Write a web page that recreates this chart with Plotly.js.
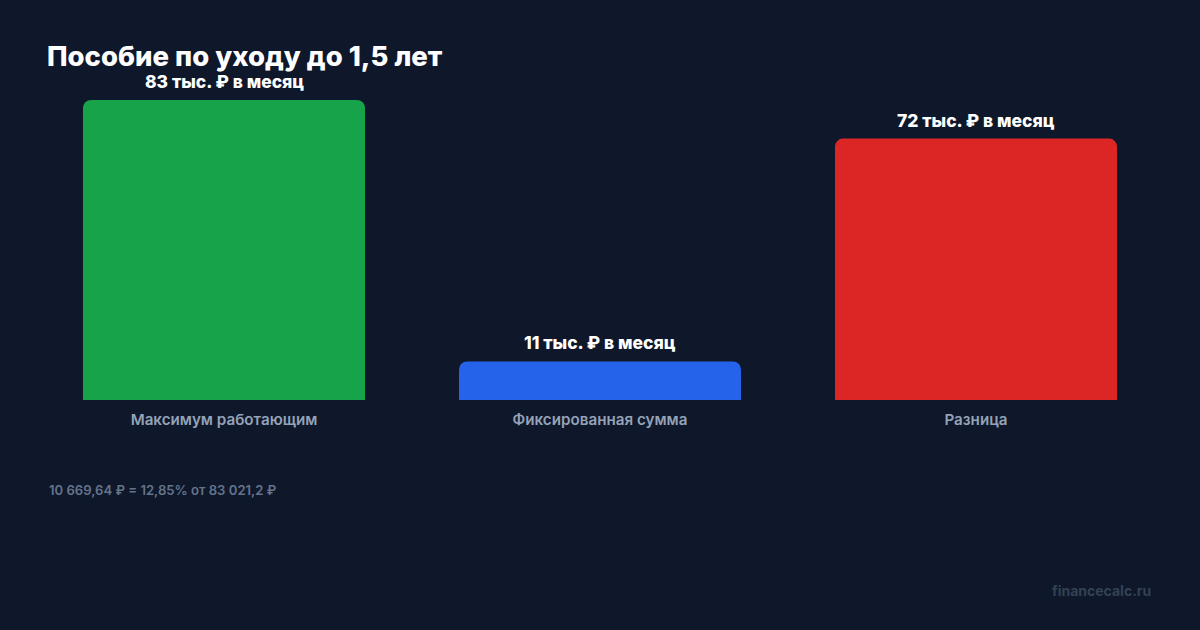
<!DOCTYPE html>
<html>
<head>
<meta charset="utf-8">
<script src="https://cdn.plot.ly/plotly-3.0.1.min.js"></script>
<style>
html,body{margin:0;padding:0;background:#0f172a;}
#chart{width:1200px;height:630px;}
</style>
</head>
<body>
<div id="chart"></div>
<script>
const categories = ["Максимум работающим", "Фиксированная сумма", "Разница"];
const values = [83.0212, 10.66964, 72.35156];
const valueLabels = ["83 тыс. ₽ в месяц", "11 тыс. ₽ в месяц", "72 тыс. ₽ в месяц"];
const barColors = ["#16a34a", "#2563eb", "#dc2626"];
const titleText = "Пособие по уходу до 1,5 лет";
const footnote = "10 669,64 ₽ = 12,85% от 83 021,2 ₽";
const watermark = "financecalc.ru";

const FONT = "Inter, 'Noto Sans', sans-serif";

const trace = {
  type: "bar",
  x: categories,
  y: values,
  marker: {color: barColors, cornerradius: 8, line: {width: 0}},
  width: 0.75,
  hoverinfo: "none"
};

const annotations = categories.map((c, i) => ({
  x: c, y: values[i], xref: "x", yref: "y",
  text: valueLabels[i],
  showarrow: false, yanchor: "bottom", yshift: 6,
  font: {family: FONT, size: 17.5, color: "#ffffff", weight: 800}
}));

annotations.push({
  xref: "paper", yref: "paper", x: 11/1128, y: -0.3,
  text: footnote, showarrow: false, xanchor: "left", yanchor: "middle",
  font: {family: FONT, size: 13.1, color: "#64748b", weight: 600}
});

annotations.push({
  xref: "paper", yref: "paper", x: (1153 - 36)/1128, y: (400 - 590)/300,
  text: watermark, showarrow: false, xanchor: "right", yanchor: "middle",
  font: {family: FONT, size: 14, color: "#334155", weight: 700}
});

const layout = {
  width: 1200, height: 630,
  paper_bgcolor: "#0f172a", plot_bgcolor: "#0f172a",
  margin: {l: 36, r: 36, t: 100, b: 230},
  showlegend: false,
  title: {
    text: titleText,
    xref: "container", yref: "container",
    x: 47/1200, xanchor: "left",
    y: 1 - 56/630, yanchor: "middle",
    font: {family: FONT, size: 27.5, color: "#ffffff", weight: 800}
  },
  xaxis: {
    showgrid: false, zeroline: false, showline: false,
    ticks: "", ticklabelstandoff: 9,
    tickfont: {family: FONT, size: 15.2, color: "#94a3b8", weight: 600},
    fixedrange: true
  },
  yaxis: {
    range: [0, 83.0212], visible: false, showgrid: false, zeroline: false,
    fixedrange: true
  },
  annotations: annotations
};

Plotly.newPlot("chart", [trace], layout, {displayModeBar: false, staticPlot: true});
</script>
</body>
</html>
